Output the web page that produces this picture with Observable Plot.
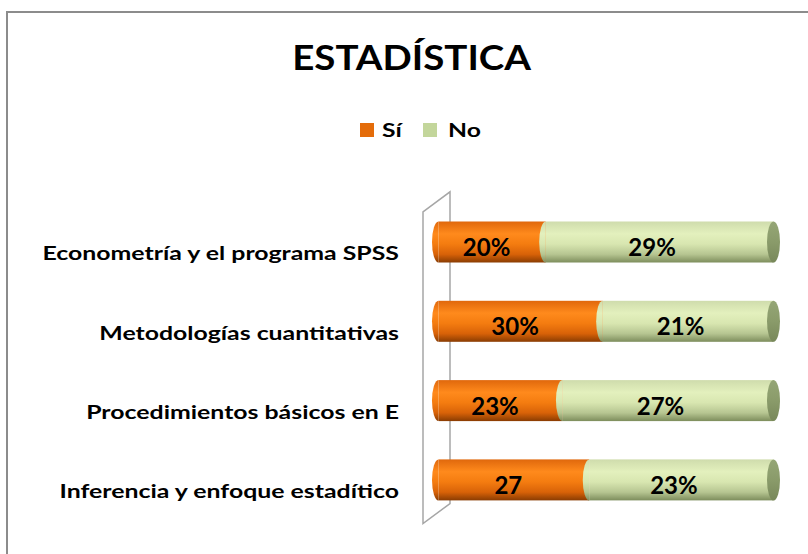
<!DOCTYPE html>
<html>
<head>
<meta charset="utf-8">
<script src="https://cdn.jsdelivr.net/npm/d3@7"></script>
<script src="https://cdn.jsdelivr.net/npm/@observablehq/plot@0.6"></script>
<style>
  html, body { margin: 0; padding: 0; background: #fff; }
  body { width: 808px; height: 554px; overflow: hidden; position: relative; font-family: Lato, "Open Sans", sans-serif; }
  #frame { position: absolute; left: 6px; top: 11px; width: 900px; height: 700px;
           border-left: 2px solid #8c8c8c; border-top: 2px solid #8c8c8c; box-sizing: border-box; }
  #title { position: absolute; left: 0; top: 39px; width: 824px; text-align: center;
           font: bold 35px/35px Lato, sans-serif; color: #000; }
  #title span { display: inline-block; transform: scaleX(1.1); }
  #legend { position: absolute; left: 0; top: 118px; width: 808px; height: 24px;
            font: bold 19px/24px Lato, sans-serif; color: #000; }
  #legend .sw { position: absolute; top: 5px; width: 14px; height: 14px; }
  #legend .lab { position: absolute; top: 0; transform: scaleX(1.3); transform-origin: 0 50%; }
  #chart { position: absolute; left: 0; top: 165px; }
</style>
</head>
<body>
<div id="frame"></div>
<div id="title"><span>ESTADÍSTICA</span></div>
<div id="legend"></div>
<div id="chart"></div>
<script>
// ---- data ----
const categories = [
  "Econometría y el programa SPSS",
  "Metodologías cuantitativas",
  "Procedimientos básicos en E",
  "Inferencia y enfoque estadítico"
];
// share of each cylinder (100% stacked) as drawn
const siShare = [32, 49, 37, 45];
const noShare = [68, 51, 63, 55];
// labels typed on the bars
const siLabels = ["20%", "30%", "23%", "27"];
const noLabels = ["29%", "21%", "27%", "23%"];
const seriesNames = ["Sí", "No"];
const seriesColors = ["#e46c0a", "#c3d69b"];

const rows = categories.map((cat, i) => ({
  cat, si: siShare[i], no: noShare[i], siLab: siLabels[i], noLab: noLabels[i]
}));

// legend
const legend = document.getElementById("legend");
const legendPos = [[360, 382], [423, 448]];
legend.innerHTML = seriesNames.map((n, i) =>
  `<span class="sw" style="left:${legendPos[i][0]}px;background:${seriesColors[i]}"></span>` +
  `<span class="lab" style="left:${legendPos[i][1]}px">${n}</span>`).join("");

// gradient defs
const defs = () => {
  const g = d3.create("svg:defs");
  const grad = (id, stops) => {
    const lg = g.append("linearGradient").attr("id", id)
      .attr("x1", 0).attr("y1", 0).attr("x2", 0).attr("y2", 1);
    stops.forEach(([o, c]) => lg.append("stop").attr("offset", o).attr("stop-color", c));
  };
  grad("gSi", [[0, "#e0680c"], [0.3, "#ff8a1c"], [0.55, "#f47c10"], [0.8, "#d86208"], [1, "#8a3c02"]]);
  grad("gNo", [[0, "#cfdcac"], [0.3, "#e3f0bd"], [0.55, "#d8e6b0"], [0.8, "#b6c591"], [1, "#7d8d5c"]]);
  grad("gCap", [[0, "#95a676"], [0.5, "#8a9b6a"], [1, "#78885a"]]);
  return g.node();
};

// 3D wall behind the bars
const wall = (index, scales, values, dims) => {
  const x0 = scales.x(0);
  const r0 = dims.marginTop, r1 = dims.height - dims.marginBottom;
  const g = d3.create("svg:g");
  g.append("path")
    .attr("d", `M${x0 - 15.5},${r0 + 9.5} L${x0 + 11.5},${r0 - 10.5} L${x0 + 11.5},${r1 - 16} L${x0 - 15.5},${r1 + 4} Z`)
    .attr("fill", "#fff").attr("stroke", "#a6a6a6").attr("stroke-width", 1.5);
  return g.node();
};

// cylinder ends
const caps = (index, scales, values, dims) => {
  const x = scales.x, y = scales.y;
  const bw = typeof y.bandwidth === "function" ? y.bandwidth() : y.bandwidth;
  const rx = 6.5, ry = bw / 2;
  const g = d3.create("svg:g");
  const bulge = (xx, top, fill) => g.append("path")
    .attr("d", `M${xx},${top} A${rx},${ry} 0 0 0 ${xx},${top + bw} Z`).attr("fill", fill);
  rows.forEach(d => {
    const top = y(d.cat);
    bulge(x(0), top, "url(#gSi)");
    bulge(x(d.si), top, "url(#gNo)");
    g.append("ellipse").attr("cx", x(d.si + d.no)).attr("cy", top + ry)
      .attr("rx", rx).attr("ry", ry).attr("fill", "url(#gCap)");
  });
  return g.node();
};

const chart = Plot.plot({
  width: 808,
  height: 389,
  marginLeft: 438.5,
  marginRight: 34.5,
  marginTop: 37.35,
  marginBottom: 34.45,
  style: { fontFamily: "Lato, sans-serif", background: "transparent" },
  x: { domain: [0, 100], axis: null },
  y: { domain: categories, paddingInner: 0.483, paddingOuter: 0.2415, round: false, label: null },
  marks: [
    defs,
    wall,
    Plot.barX(rows, { y: "cat", x1: d => 0, x2: "si", fill: "url(#gSi)" }),
    Plot.barX(rows, { y: "cat", x1: "si", x2: d => d.si + d.no, fill: "url(#gNo)" }),
    caps,
    Plot.text(rows, { y: "cat", x: d => d.si / 2, text: "siLab", fontSize: 24, fontWeight: "bold", fill: "#000", dy: 6, dx: -6, ariaLabel: "bar-label" }),
    Plot.text(rows, { y: "cat", x: d => d.si + d.no / 2, text: "noLab", fontSize: 24, fontWeight: "bold", fill: "#000", dy: 6, dx: -8, ariaLabel: "bar-label" }),
    Plot.axisY({ tickSize: 0, tickPadding: 40, fontSize: 18, fontWeight: "bold", fill: "#000", dy: 12, label: null })
  ]
});

// horizontal stretch of the text, as in the reference
function stretch(sel, s) {
  chart.querySelectorAll(sel).forEach(t => {
    const x = +(t.getAttribute("x") || 0);
    const tr = t.getAttribute("transform") || "";
    t.setAttribute("transform", `${tr} translate(${x},0) scale(${s},1) translate(${-x},0)`);
  });
}
stretch('g[aria-label="y-axis tick label"] text', 1.38);
stretch('g[aria-label="bar-label"] text', 1.14);

document.getElementById("chart").appendChild(chart);
</script>
</body>
</html>
